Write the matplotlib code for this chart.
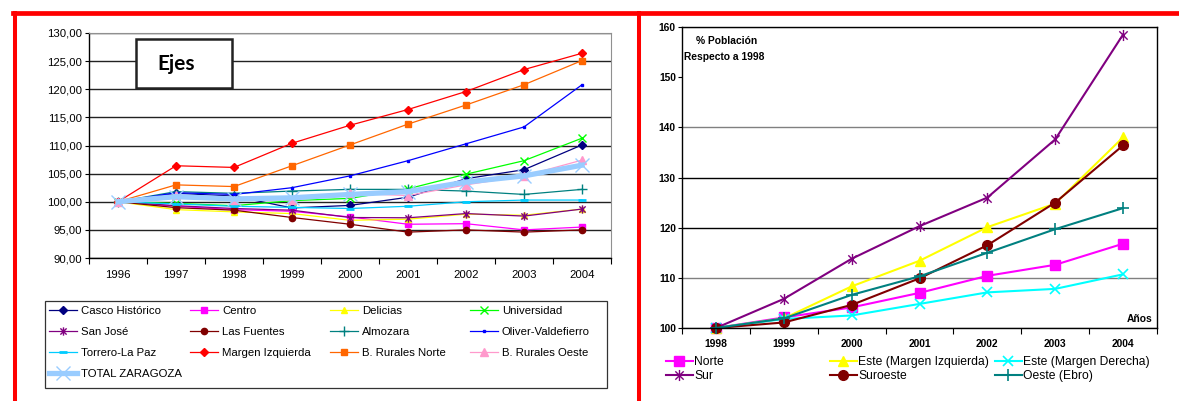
import matplotlib.pyplot as plt
from matplotlib.lines import Line2D
from matplotlib.patches import Rectangle
from matplotlib.path import Path
from matplotlib.ticker import FuncFormatter, MultipleLocator, FixedLocator

plt.rcParams['font.family'] = ['Liberation Sans', 'DejaVu Sans']

# left chart: districts, index 1996 = 100
years_l = ['1996', '1997', '1998', '1999', '2000', '2001', '2002', '2003', '2004']
casco = [100, 101.5, 101.0, 98.9, 99.35, 100.8, 104.1, 105.7, 110.1]
centro = [100, 99.2, 98.6, 98.3, 97.3, 96.0, 96.1, 95.0, 95.5]
delicias = [100, 98.6, 98.2, 97.9, 96.7, 96.9, 97.8, 97.6, 98.7]
universidad = [100, 99.7, 99.3, 100.2, 100.6, 102.3, 104.9, 107.3, 111.3]
san_jose = [100, 99.3, 98.8, 98.5, 97.2, 97.15, 97.9, 97.45, 98.7]
las_fuentes = [100, 98.95, 98.5, 97.2, 96.0, 94.6, 95.0, 94.6, 95.0]
almozara = [100, 101.8, 101.5, 101.9, 102.2, 102.2, 101.9, 101.3, 102.2]
oliver = [100, 101.6, 101.3, 102.5, 104.6, 107.3, 110.3, 113.3, 120.8]
torrero = [100, 99.6, 99.2, 99.0, 98.8, 99.2, 100.0, 100.3, 100.3]
margen_izq = [100, 106.4, 106.1, 110.4, 113.6, 116.4, 119.6, 123.5, 126.4]
rurales_norte = [100, 103.0, 102.7, 106.4, 110.1, 113.8, 117.2, 120.8, 125.1]
rurales_oeste = [100, 101.2, 100.4, 100.3, 101.5, 101.1, 103.0, 104.6, 107.4]
total = [100, 100.9, 100.5, 100.7, 101.3, 101.8, 103.5, 104.6, 106.5]

# right chart: zones, % population vs 1998
years_r = ['1998', '1999', '2000', '2001', '2002', '2003', '2004']
norte = [100, 102.1, 104.1, 107.0, 110.4, 112.6, 116.8]
este_izq = [100, 101.9, 108.3, 113.4, 120.1, 124.8, 138.0]
este_der = [100, 101.8, 102.5, 104.8, 107.1, 107.8, 110.7]
sur = [100, 105.8, 113.8, 120.3, 126.0, 137.6, 158.5]
suroeste = [100, 101.1, 104.6, 109.9, 116.5, 125.0, 136.4]
oeste = [100, 101.9, 106.6, 110.3, 115.0, 119.7, 123.9]

W, H = 1179, 401
fig = plt.figure(figsize=(W / 100, H / 100), dpi=100)
fx = lambda px: px / W
fy = lambda py: 1 - py / H

# excel style star: x plus a vertical bar
asterisk = Path([(0, -1), (0, 1), (-0.75, -0.75), (0.75, 0.75), (-0.75, 0.75), (0.75, -0.75)],
                [Path.MOVETO, Path.LINETO] * 3)

# red frame
fig.add_artist(Line2D([fx(13), 1], [fy(12.5)] * 2, color='red', lw=3.4))
fig.add_artist(Line2D([fx(14.7)] * 2, [0, fy(12.5)], color='red', lw=2.9))
fig.add_artist(Line2D([fx(639)] * 2, [0, fy(12.5)], color='red', lw=2.9))

# ---------------- left chart
ax1 = fig.add_axes([fx(89), fy(258), (611 - 89) / W, (258 - 33) / H])
xl = range(len(years_l))
series_l = [
    ('Casco Histórico', casco, dict(color='#000080', marker='D', ms=4)),
    ('Centro', centro, dict(color='#FF00FF', marker='s', ms=4.5)),
    ('Delicias', delicias, dict(color='#FFFF00', marker='^', ms=5)),
    ('Universidad', universidad, dict(color='#00FF00', marker='x', ms=6, mew=1)),
    ('San José', san_jose, dict(color='#800080', marker=asterisk, ms=6, mew=1, mfc='none')),
    ('Las Fuentes', las_fuentes, dict(color='#800000', marker='o', ms=4.5)),
    ('Almozara', almozara, dict(color='#008080', marker='+', ms=7, mew=1)),
    ('Oliver-Valdefierro', oliver, dict(color='#0000FF', marker='s', ms=2)),
    ('Torrero-La Paz', torrero, dict(color='#00CCFF', marker='_', ms=6, mew=2)),
    ('Margen Izquierda', margen_izq, dict(color='#FF0000', marker='D', ms=4.5)),
    ('B. Rurales Norte', rurales_norte, dict(color='#FF6600', marker='s', ms=5)),
    ('B. Rurales Oeste', rurales_oeste, dict(color='#FF99CC', marker='^', ms=5.5)),
]
handles_l = []
for name, vals, st in series_l:
    h, = ax1.plot(xl, vals, lw=0.9, label=name, **st)
    handles_l.append(h)
h, = ax1.plot(xl, total, color='#99CCFF', lw=3.8, marker='x', ms=10, mew=1,
              label='TOTAL ZARAGOZA')
handles_l.append(h)

ax1.set_xlim(-0.5, len(years_l) - 0.5)
ax1.set_ylim(90, 130)
ax1.yaxis.set_major_locator(MultipleLocator(5))
ax1.yaxis.set_major_formatter(FuncFormatter(lambda v, p: f'{v:.2f}'.replace('.', ',')))
ax1.set_xticks(list(xl))
ax1.set_xticklabels(years_l)
ax1.xaxis.set_minor_locator(FixedLocator([i - 0.5 for i in range(len(years_l) + 1)]))
ax1.tick_params(axis='x', which='major', length=0, pad=9, labelsize=8.2)
ax1.tick_params(axis='x', which='minor', length=4, width=0.8)
ax1.tick_params(axis='y', length=3, width=0.8, pad=2, labelsize=8.2)
ax1.grid(axis='y', color='#222222', lw=1)
ax1.set_axisbelow(True)
for s in ['top', 'right']:
    ax1.spines[s].set_color('#909090')
for s in ['left', 'bottom']:
    ax1.spines[s].set_color('black')
    ax1.spines[s].set_linewidth(1)

# Ejes box
fig.add_artist(Rectangle((fx(136), fy(88)), (232 - 136) / W, (88 - 39) / H,
                         transform=fig.transFigure, facecolor='white',
                         edgecolor='#222222', lw=1.8, zorder=5))
fig.text(fx(157), fy(63.5), 'Ejes', family=['Lato', 'DejaVu Sans'],
         fontweight='bold', fontsize=15, va='center', ha='left', zorder=6)

# left legend, one column at a time
fig.add_artist(Rectangle((fx(45), fy(388)), (607 - 45) / W, (388 - 301) / H,
                         transform=fig.transFigure, facecolor='none',
                         edgecolor='#333333', lw=0.9))
cols = [[0, 4, 8, 12], [1, 5, 9], [2, 6, 10], [3, 7, 11]]
col_x = [49, 190, 330, 470]
for idx, cx in zip(cols, col_x):
    fig.legend([handles_l[i] for i in idx], [handles_l[i].get_label() for i in idx],
               loc='upper left', bbox_to_anchor=(fx(cx), fy(306)),
               frameon=False, fontsize=8.2, borderpad=0, borderaxespad=0,
               handlelength=2.5, handletextpad=0.3, labelspacing=0.98)

# ---------------- right chart
ax2 = fig.add_axes([fx(682), fy(328), (1157 - 682) / W, (328 - 27) / H])
xr = range(len(years_r))
series_r = [
    ('Norte', norte, dict(color='#FF00FF', marker='s', ms=6.5)),
    ('Este (Margen Izquierda)', este_izq, dict(color='#FFFF00', marker='^', ms=7.5)),
    ('Este (Margen Derecha)', este_der, dict(color='#00FFFF', marker='x', ms=7.5, mew=1.2)),
    ('Sur', sur, dict(color='#800080', marker=asterisk, ms=8, mew=1, mfc='none')),
    ('Suroeste', suroeste, dict(color='#800000', marker='o', ms=7)),
    ('Oeste (Ebro)', oeste, dict(color='#008080', marker='+', ms=8, mew=1.2)),
]
handles_r = []
for name, vals, st in series_r:
    h, = ax2.plot(xr, vals, lw=1.5, label=name, clip_on=False, **st)
    handles_r.append(h)

ax2.set_xlim(-0.5, len(years_r) - 0.5)
ax2.set_ylim(100, 160)
ax2.yaxis.set_major_locator(MultipleLocator(10))
ax2.set_xticks(list(xr))
ax2.set_xticklabels(years_r)
ax2.xaxis.set_minor_locator(FixedLocator([i - 0.5 for i in range(len(years_r) + 1)]))
ax2.tick_params(axis='x', which='major', length=0, pad=8, labelsize=7.4)
ax2.tick_params(axis='x', which='minor', length=4, width=0.8)
ax2.tick_params(axis='y', length=3, width=0.8, pad=1.5, labelsize=7.4)
for lab in ax2.get_xticklabels() + ax2.get_yticklabels():
    lab.set_fontweight('bold')
ax2.grid(axis='y', lw=1)
grid_cols = ['none', '#808080', '#808080', '#000000', '#000000', '#808080', 'none']
for gl, c in zip(ax2.get_ygridlines(), grid_cols):
    gl.set_color(c)
ax2.set_axisbelow(True)
for s in ax2.spines.values():
    s.set_color('black')
    s.set_linewidth(1)

ax2.text(0.03, 0.955, '% Población', transform=ax2.transAxes, fontsize=7.4,
         fontweight='bold', ha='left', va='center')
ax2.text(0.005, 0.9, 'Respecto a 1998', transform=ax2.transAxes, fontsize=7.4,
         fontweight='bold', ha='left', va='center')
ax2.text(0.99, 0.013, 'Años', transform=ax2.transAxes, fontsize=7.4,
         fontweight='bold', ha='right', va='bottom')

rcols = [[0, 3], [1, 4], [2, 5]]
rcol_x = [666, 830, 995]
for idx, cx in zip(rcols, rcol_x):
    fig.legend([handles_r[i] for i in idx], [handles_r[i].get_label() for i in idx],
               loc='upper left', bbox_to_anchor=(fx(cx), fy(356)),
               frameon=False, fontsize=8.7, borderpad=0, borderaxespad=0,
               handlelength=2.2, handletextpad=0.15, labelspacing=0.18)

fig.savefig('out.png', dpi=100)
